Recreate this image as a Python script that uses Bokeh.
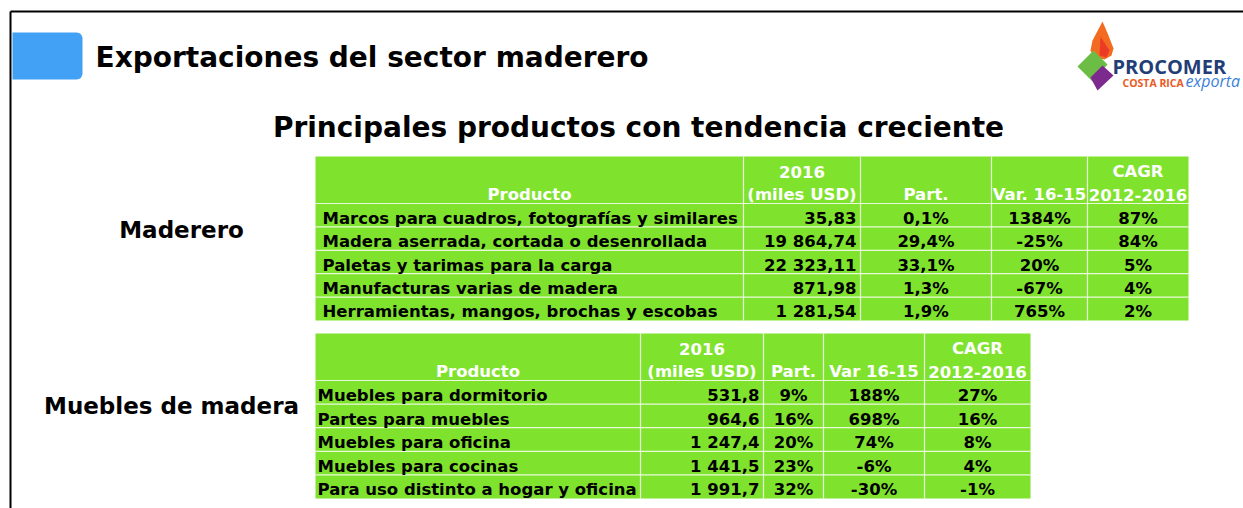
import numpy as np
from bokeh.plotting import figure
from bokeh.models import Range1d
from bokeh.core.properties import value
from bokeh.embed import file_html
from bokeh.resources import INLINE

# ---------------- data ----------------
title = "Exportaciones del sector maderero"
subtitle = "Principales productos con tendencia creciente"

t1_label = "Maderero"
t1_headers_top = ["", "2016", "", "", "CAGR"]
t1_headers_bot = ["Producto", "(miles USD)", "Part.", "Var. 16-15", "2012-2016"]
t1_products = [
    "Marcos para cuadros, fotografías y similares",
    "Madera aserrada, cortada o desenrollada",
    "Paletas y tarimas para la carga",
    "Manufacturas varias de madera",
    "Herramientas, mangos, brochas y escobas",
]
t1_values = [35.83, 19864.74, 22323.11, 871.98, 1281.54]
t1_part = [0.1, 29.4, 33.1, 1.3, 1.9]
t1_var = [1384, -25, 20, -67, 765]
t1_cagr = [87, 84, 5, 4, 2]

t2_label = "Muebles de madera"
t2_headers_top = ["", "2016", "", "", "CAGR"]
t2_headers_bot = ["Producto", "(miles USD)", "Part.", "Var 16-15", "2012-2016"]
t2_products = [
    "Muebles para dormitorio",
    "Partes para muebles",
    "Muebles para oficina",
    "Muebles para cocinas",
    "Para uso distinto a hogar y oficina",
]
t2_values = [531.8, 964.6, 1247.4, 1441.5, 1991.7]
t2_part = [9, 16, 20, 23, 32]
t2_var = [188, 698, 74, -6, -30]
t2_cagr = [27, 16, 8, 4, -1]


def fmt_num(v, dec):
    s = f"{v:,.{dec}f}"
    return s.replace(",", " ").replace(".", ",")


def fmt_pct(v, dec=0):
    return f"{v:.{dec}f}".replace(".", ",") + "%"


# ---------------- figure ----------------
W, H = 1243, 508
p = figure(width=W, height=H, x_range=Range1d(0, W), y_range=Range1d(H, 0),
           output_backend="svg", toolbar_location=None, min_border=0)
p.axis.visible = False
p.grid.visible = False
p.outline_line_color = None
p.background_fill_color = "white"
p.border_fill_color = "white"

FONT = value("DejaVu Sans")
LOGO_FONT = value("Open Sans")
SHIFT = 0.34  # em offset so that glyph baseline lands where wanted


def txt(xs, baselines, texts, size, color="black", align="left", font=FONT, style="bold"):
    ys = [b - SHIFT * size for b in baselines]
    p.text(x=xs, y=ys, text=texts, text_font=font, text_font_style=style,
           text_font_size=f"{size}px", text_color=color, text_align=align,
           text_baseline="alphabetic")


# slide frame
p.segment(x0=[10, 10], y0=[11, 11], x1=[1243, 10], y1=[11, 508], line_color="black", line_width=2)

# blue tab with rounded right corners
r = 6
x0b, x1b, y0b, y1b = 12, 82, 32, 79
t = np.linspace(0, np.pi / 2, 8)
xs = [x0b] + list(x1b - r + r * np.sin(t)) + list(x1b - r + r * np.cos(t)) + [x0b]
ys = [y0b] + list(y0b + r - r * np.cos(t)) + list(y1b - r + r * np.sin(t)) + [y1b]
p.patch(xs, ys, fill_color="#42A1F4", line_color=None)

txt([95], [67], [title], 28)
txt([638], [137], [subtitle], 28, align="center")

# logo
p.patch([1102, 1108, 1113, 1111, 1104, 1094, 1090, 1092],
        [21, 35, 48, 55, 59, 57, 50, 40], fill_color="#F26B21", line_color=None)
p.patch([1100, 1109, 1106, 1099], [36, 50, 57, 55], fill_color="#E8262B", line_color=None, fill_alpha=0.7)
p.patch([1077, 1093, 1107, 1092], [66, 50, 64, 81], fill_color="#6CBD45", line_color=None)
p.patch([1090, 1102, 1113, 1097], [77, 65, 75, 90], fill_color="#7D2A8E", line_color=None)
txt([1112], [73], ["PROCOMER"], 20, color="#233E77", font=LOGO_FONT)
txt([1122], [86], ["COSTA RICA"], 10.5, color="#E85A24", font=LOGO_FONT)
txt([1185], [86], ["exporta"], 16, color="#3C7FD9", font=LOGO_FONT, style="italic")

GREEN = "#7FE32E"


def draw_table(col_edges, top, head_bot, row_h, heads_top, heads_bot, cols, pad_left,
               label, label_x, label_y):
    n = len(cols[0])
    row_edges = [top, head_bot] + [head_bot + row_h * (i + 1) for i in range(n)]
    left, right = col_edges[0], col_edges[-1]
    p.quad(left=[left], right=[right], top=[top], bottom=[row_edges[-1]],
           fill_color=GREEN, line_color=None)
    p.segment(x0=col_edges[1:-1], y0=[top] * (len(col_edges) - 2),
              x1=col_edges[1:-1], y1=[row_edges[-1]] * (len(col_edges) - 2),
              line_color="#EAF9DC", line_width=1.2)
    p.segment(x0=[left] * (len(row_edges) - 2), y0=row_edges[1:-1],
              x1=[right] * (len(row_edges) - 2), y1=row_edges[1:-1],
              line_color="#EAF9DC", line_width=1.2)
    centers = [(a + b) / 2 for a, b in zip(col_edges[:-1], col_edges[1:])]
    txt(centers, [head_bot - 26] * len(centers), heads_top, 16.5, color="white", align="center")
    txt(centers, [head_bot - 3] * len(centers), heads_bot, 16.5, color="white", align="center")
    ys = [row_edges[i + 2] - 3 for i in range(n)]
    for j, col in enumerate(cols):
        if j == 0:
            xx, al = left + pad_left, "left"
        elif j == 1:
            xx, al = col_edges[2] - 4, "right"
        else:
            xx, al = centers[j], "center"
        txt([xx] * n, ys, col, 16.5, align=al)
    txt([label_x], [label_y], [label], 23, align="center")


t1_cols = [t1_products,
           [fmt_num(v, 2) for v in t1_values],
           [fmt_pct(v, 1) for v in t1_part],
           [fmt_pct(v) for v in t1_var],
           [fmt_pct(v) for v in t1_cagr]]
draw_table([315, 743, 860, 991, 1087, 1188], 156, 203, 23.4,
           t1_headers_top, t1_headers_bot, t1_cols, 7, t1_label, 181, 237)

t2_cols = [t2_products,
           [fmt_num(v, 1) for v in t2_values],
           [fmt_pct(v) for v in t2_part],
           [fmt_pct(v) for v in t2_var],
           [fmt_pct(v) for v in t2_cagr]]
draw_table([315, 640, 763, 823, 924, 1030], 333, 380, 23.6,
           t2_headers_top, t2_headers_bot, t2_cols, 2, t2_label, 171, 413)

open("out.html", "w").write(file_html(p, INLINE))
